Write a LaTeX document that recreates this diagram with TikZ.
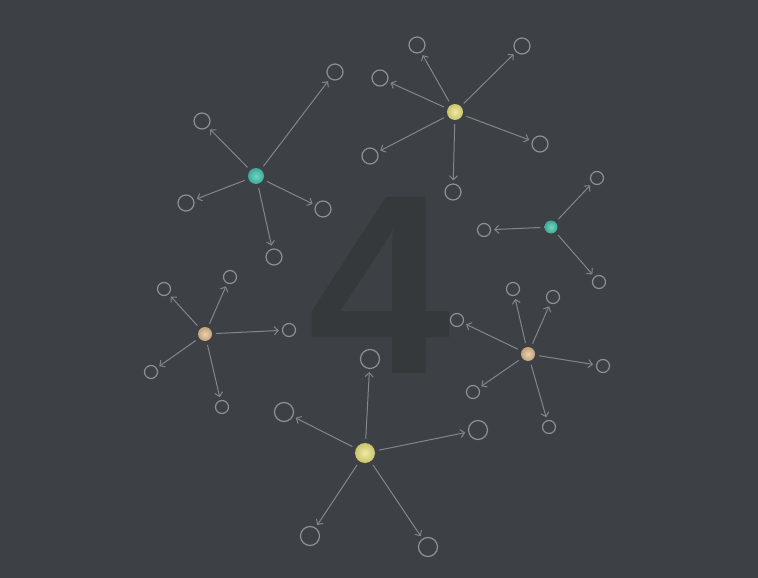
\documentclass[tikz,border=0pt]{standalone}
\usepackage{fontspec}
\newfontfamily\digitfont{Liberation Sans}
\usetikzlibrary{arrows.meta,shapes.geometric}
\definecolor{bgc}{HTML}{3D4145}
\definecolor{digitc}{HTML}{35393C}
\definecolor{linec}{HTML}{80878D}
\definecolor{ringc}{HTML}{8A9197}
\definecolor{yelA}{HTML}{EEEAA6}
\definecolor{yelB}{HTML}{C8C46C}
\definecolor{tealA}{HTML}{6FD6C2}
\definecolor{tealB}{HTML}{3EA896}
\definecolor{tanA}{HTML}{EAD3AE}
\definecolor{tanB}{HTML}{C2A27A}
\tikzset{
  leaf/.style={circle,draw=ringc,line width=1.2pt,inner sep=0pt,minimum size=#1},
  hub/.style={circle,draw=none,inner sep=0pt,minimum size=#1},
  yhub/.style={hub=#1,inner color=yelA,outer color=yelB},
  thub/.style={hub=#1,inner color=tealA,outer color=tealB},
  nhub/.style={hub=#1,inner color=tanA,outer color=tanB},
  edge/.style={draw=linec,line width=1pt,-{Straight Barb[length=4pt,width=8pt]},shorten >=3pt,shorten <=4pt},
}
\begin{document}
\begin{tikzpicture}[x=1pt,y=-1pt]
\fill[bgc] (0,0) rectangle (758,578);
\useasboundingbox (0,0) rectangle (758,578);
\node[text=digitc,inner sep=0pt,anchor=south] (four) at (380,374) {\digitfont\bfseries\fontsize{256}{256}\selectfont 4};
% cluster 1 bottom
\node[yhub=20pt] (c1) at (365,453) {};
\node[leaf=19pt] (c1a) at (370,359) {};
\node[leaf=19pt] (c1b) at (284,412) {};
\node[leaf=19pt] (c1c) at (478,430) {};
\node[leaf=19pt] (c1d) at (310,536) {};
\node[leaf=19pt] (c1e) at (428,547) {};
% cluster 2 top
\node[yhub=16pt] (c2) at (455,112) {};
\node[leaf=16pt] (c2a) at (417,45) {};
\node[leaf=16pt] (c2b) at (522,46) {};
\node[leaf=16pt] (c2c) at (380,78) {};
\node[leaf=16pt] (c2d) at (370,156) {};
\node[leaf=16pt] (c2e) at (540,144) {};
\node[leaf=16pt] (c2f) at (453,192) {};
% cluster 3 teal
\node[thub=16pt] (c3) at (256,176) {};
\node[leaf=16pt] (c3a) at (335,72) {};
\node[leaf=16pt] (c3b) at (202,121) {};
\node[leaf=16pt] (c3c) at (186,203) {};
\node[leaf=16pt] (c3d) at (323,209) {};
\node[leaf=16pt] (c3e) at (274,257) {};
% cluster 4 teal small
\node[thub=13pt] (c4) at (551,227) {};
\node[leaf=13pt] (c4a) at (597,178) {};
\node[leaf=13pt] (c4b) at (484,230) {};
\node[leaf=13pt] (c4c) at (599,282) {};
% cluster 5 tan
\node[nhub=14pt] (c5) at (205,334) {};
\node[leaf=13pt] (c5a) at (164,289) {};
\node[leaf=13pt] (c5b) at (230,277) {};
\node[leaf=13pt] (c5c) at (289,330) {};
\node[leaf=13pt] (c5d) at (151,372) {};
\node[leaf=13pt] (c5e) at (222,407) {};
% cluster 6 tan
\node[nhub=14pt] (c6) at (528,354) {};
\node[leaf=13pt] (c6a) at (513,289) {};
\node[leaf=13pt] (c6b) at (553,297) {};
\node[leaf=13pt] (c6c) at (457,320) {};
\node[leaf=13pt] (c6d) at (603,366) {};
\node[leaf=13pt] (c6e) at (473,392) {};
\node[leaf=13pt] (c6f) at (549,427) {};
% edges
\foreach \s/\t in {c1/c1a,c1/c1b,c1/c1c,c1/c1d,c1/c1e,
  c2/c2a,c2/c2b,c2/c2c,c2/c2d,c2/c2e,c2/c2f,
  c3/c3a,c3/c3b,c3/c3c,c3/c3d,c3/c3e,
  c4/c4a,c4/c4b,c4/c4c,
  c5/c5a,c5/c5b,c5/c5c,c5/c5d,c5/c5e,
  c6/c6a,c6/c6b,c6/c6c,c6/c6d,c6/c6e,c6/c6f}
  \draw[edge] (\s) -- (\t);
\end{tikzpicture}
\end{document}
